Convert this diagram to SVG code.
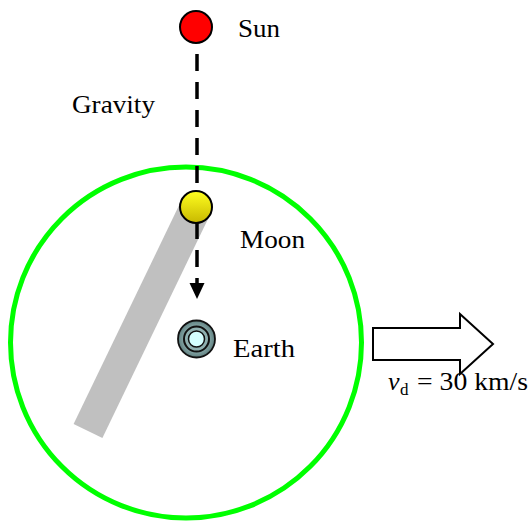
<svg xmlns="http://www.w3.org/2000/svg" width="530" height="525" viewBox="0 0 530 525">
<defs>
<style>
text{font-family:'Times New Roman','Liberation Serif',serif;font-size:26px;fill:#000}
.body{stroke:#000;stroke-width:2}
</style>
<linearGradient id="moonG" x1="0" y1="0" x2="0" y2="1">
<stop offset="0" stop-color="#ffff20"/>
<stop offset="1" stop-color="#c8b800"/>
</linearGradient>
<radialGradient id="earthG" cx="0.5" cy="0.5" r="0.5">
<stop offset="0.6" stop-color="#8fb0b0"/>
<stop offset="1" stop-color="#5f7f7f"/>
</radialGradient>
</defs>
<g id="orbit">
<circle cx="186" cy="342.5" r="175.5" fill="none" stroke="#00ff00" stroke-width="5"/>
</g>
<g id="shadow">
<polygon points="210.4,213.9 181.6,200.1 73.6,424.1 102.4,437.9" fill="#c0c0c0"/>
</g>
<g id="connectors">
<line x1="197" y1="54" x2="197" y2="284" stroke="#000" stroke-width="3.5" stroke-dasharray="17 11"/>
<polygon points="189.5,283 204.5,283 197,299" fill="#000"/>
</g>
<g id="sun">
<circle class="body" cx="196" cy="27" r="16" fill="#ff0000"/>
<text x="238" y="37" textLength="42" lengthAdjust="spacingAndGlyphs">Sun</text>
</g>
<g id="gravity">
<text x="72" y="113" textLength="83" lengthAdjust="spacingAndGlyphs">Gravity</text>
</g>
<g id="moon">
<circle class="body" cx="196" cy="207" r="16" fill="url(#moonG)"/>
<text x="240" y="248" textLength="65" lengthAdjust="spacingAndGlyphs">Moon</text>
</g>
<g id="earth">
<circle cx="196.5" cy="339" r="18.5" fill="url(#earthG)" stroke="#111" stroke-width="1.8"/>
<circle cx="196.5" cy="339" r="12.5" fill="#8fb0b0" stroke="#111" stroke-width="2"/>
<circle cx="196.5" cy="339" r="8" fill="#d4ffff" stroke="#111" stroke-width="1.5"/>
<text x="233" y="357" textLength="62" lengthAdjust="spacingAndGlyphs">Earth</text>
</g>
<g id="velocity">
<polygon class="body" points="373,328 460,328 460,314 493,344 460,374 460,360 373,360" fill="#fff"/>
<text x="388" y="390" font-style="italic">v</text>
<text x="400" y="395" style="font-size:17px">d</text>
<text x="417" y="390" textLength="111" lengthAdjust="spacingAndGlyphs">= 30 km/s</text>
</g>
</svg>
